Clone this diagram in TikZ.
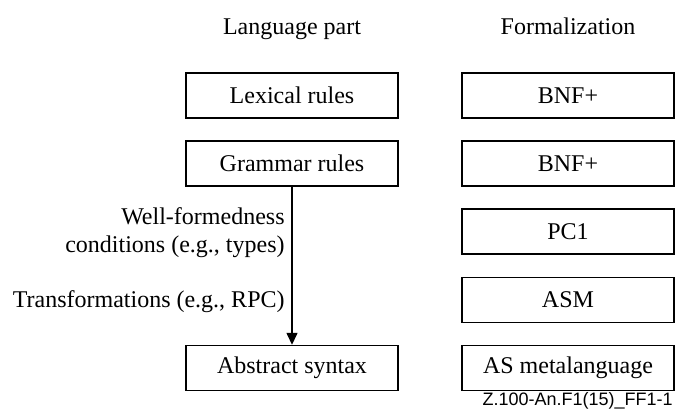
\documentclass[tikz,border=0pt]{standalone}
\usepackage{fontspec}
\setmainfont{Liberation Serif}
\newfontfamily\figfont{Liberation Sans}
\usetikzlibrary{arrows.meta}
\tikzset{
  partbox/.style={draw,line width=0.7pt,minimum width=106pt,minimum height=22.5pt,inner sep=0pt},
  headtxt/.style={anchor=base,inner sep=0pt},
  sidetxt/.style={anchor=base east,inner sep=0pt}
}
\begin{document}
\begin{tikzpicture}[x=0.5pt,y=-0.5pt,font=\fontsize{12}{14}\selectfont]
\useasboundingbox (0,0) rectangle (676,412);
\node[headtxt] at (292,34) (hlang) {Language part}; \node[headtxt] at (568,34) (hform) {Formalization};
\node[partbox] at (292,95.5) (lex) {Lexical rules}; \node[partbox] at (568,95.5) (bnfa) {BNF+};
\node[partbox] at (292,163.5) (gram) {Grammar rules}; \node[partbox] at (568,163.5) (bnfb) {BNF+};
\node[partbox] at (568,231.5) (pc) {PC1};
\node[partbox] at (568,300) (asm) {ASM};
\node[partbox] at (292,368) (abs) {Abstract syntax}; \node[partbox] at (568,368) (asml) {AS metalanguage};
\draw[line width=0.7pt,-{Triangle[length=6pt,width=5.5pt]}] (gram) -- (abs);
\node[sidetxt] at (285,224) (wf) {Well-formedness};
\node[sidetxt] at (285,252) (cond) {conditions (e.g., types)};
\node[sidetxt] at (285,307) (trans) {Transformations (e.g., RPC)};
\node[sidetxt,font=\figfont\fontsize{9}{10}\selectfont] at (673,405) (fig) {Z.100-An.F1(15)\_FF1-1};
\end{tikzpicture}
\end{document}
